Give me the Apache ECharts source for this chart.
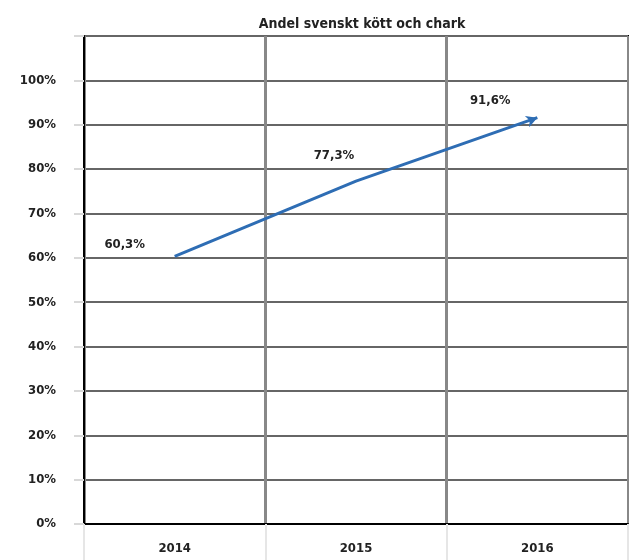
<!DOCTYPE html>
<html>
<head>
<meta charset="utf-8">
<title>Andel svenskt kött och chark</title>
<script src="https://cdn.jsdelivr.net/npm/echarts@6/dist/echarts.min.js"></script>
<style>
  html, body { margin: 0; padding: 0; background: #fff; }
  #chart { width: 629px; height: 560px; }
</style>
</head>
<body>
<div id="chart"></div>
<script>
// data
const years = ['2014', '2015', '2016'];
const shareSwedish = [60.3, 77.3, 91.6];
const yTicks = [0, 10, 20, 30, 40, 50, 60, 70, 80, 90, 100];

const font = '"Liberation Sans Narrow", "DejaVu Sans Condensed", sans-serif';
const lineColor = '#2e6db4';

// label offsets (up-left of each point)
const labelOffsets = [[-50, 0], [-22, -14], [-42, 0]];

const chart = echarts.init(document.getElementById('chart'));

chart.setOption({
  animation: false,
  title: {
    text: 'Andel svenskt kött och chark',
    left: 357,
    top: 12,
    textAlign: 'center',
    textStyle: {
      fontFamily: font,
      fontSize: 14,
      fontWeight: 'bold',
      color: '#222',
    },
  },
  grid: {
    left: 84,
    right: 1,
    top: 36,
    bottom: 36,
    show: true,
    borderColor: '#000',
    borderWidth: 2,
  },
  xAxis: {
    type: 'category',
    data: years,
    boundaryGap: true,
    axisLine: { lineStyle: { color: '#000', width: 2 } },
    axisTick: { show: true, length: 36, lineStyle: { color: '#e6e6e6', width: 2 } },
    axisLabel: {
      margin: 18,
      fontFamily: font,
      fontSize: 13,
      fontWeight: 'bold',
      color: '#222',
    },
    splitLine: { show: true, lineStyle: { color: '#888', width: 3 } },
  },
  yAxis: {
    type: 'value',
    min: 0,
    max: 110,
    interval: 10,
    axisLine: { show: true, lineStyle: { color: '#000', width: 2 } },
    axisTick: { show: true, length: 10, lineStyle: { color: '#d8d8d8', width: 2 } },
    axisLabel: {
      margin: 28,
      fontFamily: font,
      fontSize: 13,
      fontWeight: 'bold',
      color: '#222',
      formatter: (v) => (yTicks.indexOf(v) >= 0 ? v + '%' : ''),
    },
    splitLine: { show: true, lineStyle: { color: '#666', width: 2 } },
  },
  series: [
    {
      type: 'line',
      data: shareSwedish.map((v, i) => {
        const last = i === shareSwedish.length - 1;
        return {
          value: v,
          symbol: last ? 'arrow' : 'circle',
          symbolSize: last ? [9, 11] : 0,
          symbolRotate: last ? -69 : 0,
          label: {
            show: true,
            offset: labelOffsets[i],
          },
        };
      }),
      showSymbol: true,
      lineStyle: { color: lineColor, width: 3 },
      itemStyle: { color: lineColor },
      label: {
        show: true,
        position: 'top',
        formatter: (p) => String(p.value).replace('.', ',') + '%',
        fontFamily: font,
        fontSize: 13,
        fontWeight: 'bold',
        color: '#222',
      },
    },
  ],
});
</script>
</body>
</html>
